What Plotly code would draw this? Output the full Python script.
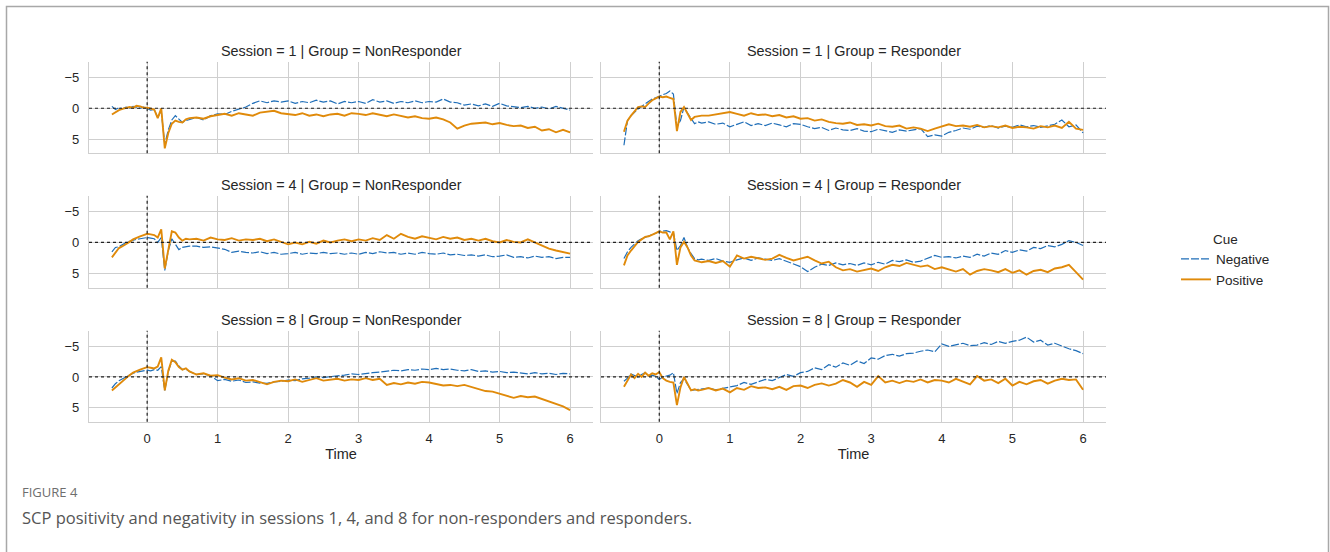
import plotly.graph_objects as go

# ---------------- data ----------------
TIME = [-0.5, -0.45, -0.4, -0.35, -0.3, -0.25, -0.2, -0.15, -0.1, -0.05,
        0.0, 0.05, 0.1, 0.15, 0.2, 0.25, 0.3, 0.35, 0.4, 0.45,
        0.5, 0.55, 0.6,
        0.7, 0.8, 0.9, 1.0, 1.1, 1.2, 1.3, 1.4, 1.5, 1.6,
        1.7, 1.8, 1.9, 2.0, 2.1, 2.2, 2.3, 2.4, 2.5, 2.6,
        2.7, 2.8, 2.9, 3.0, 3.1, 3.2, 3.3, 3.4, 3.5, 3.6,
        3.7, 3.8, 3.9, 4.0, 4.1, 4.2, 4.3, 4.4, 4.5, 4.6,
        4.7, 4.8, 4.9, 5.0, 5.1, 5.2, 5.3, 5.4, 5.5, 5.6,
        5.7, 5.8, 5.9, 6.0]

SESSIONS = [1, 4, 8]
GROUPS = ["NonResponder", "Responder"]
CUES = ["Negative", "Positive"]
X_TICKS = [0, 1, 2, 3, 4, 5, 6]
Y_TICKS = [-5, 0, 5]

S1_NR_NEG = [-0.3, 0.2, -0.1, 0.1, -0.2, 0.0, -0.3, -0.1, 0.0, -0.2,
             0.1, 0.3, 0.2, 1.5, 0.5, 5.8, 3.5, 1.9, 1.2, 1.7,
             2.3, 2.0, 1.8,
             1.5, 1.9, 1.2, 0.9, 1.0, 0.5, 0.1, -0.2, -0.8, -1.2,
             -0.9, -1.2, -1.0, -1.2, -0.8, -1.1, -0.9, -1.3, -1.0, -1.2,
             -0.7, -1.1, -0.9, -1.1, -0.8, -1.4, -1.0, -1.2, -0.8, -1.1,
             -0.9, -1.2, -0.9, -1.1, -1.0, -1.5, -1.0, -0.9, -0.5, -0.7,
             -0.4, -0.7, -0.3, -0.8, -0.4, -0.2, -0.1, -0.3, 0.0, -0.2,
             0.1, -0.3, 0.0, 0.3]
S1_NR_POS = [1.0, 0.6, 0.3, 0.1, 0.0, -0.2, -0.1, -0.4, -0.3, -0.1,
             -0.1, 0.1, 0.2, 1.6, 0.0, 6.5, 4.0, 2.5, 2.0, 2.2,
             2.3, 1.8, 1.6,
             1.5, 1.7, 1.3, 1.1, 0.9, 1.2, 0.8, 1.0, 1.2, 0.7,
             0.6, 0.4, 0.8, 0.9, 1.1, 0.8, 1.2, 1.0, 1.3, 1.0,
             0.9, 1.2, 0.8, 0.9, 1.1, 0.8, 1.0, 1.3, 1.0, 1.2,
             1.5, 1.3, 1.6, 1.7, 1.5, 1.8, 2.3, 3.3, 2.8, 2.5,
             2.4, 2.3, 2.6, 2.4, 2.7, 2.9, 2.8, 3.2, 3.0, 3.6,
             3.4, 3.9, 3.5, 3.9]
S1_R_NEG = [6.0, 2.0, 1.2, 0.6, 0.1, -0.3, -0.7, -1.1, -1.5, -1.7,
            -2.0, -2.2, -2.4, -2.8, -2.3, 3.0, 2.0, -0.2, 0.8, 1.7,
            2.5, 2.2, 2.4,
            2.2, 2.6, 2.4, 3.0, 2.6, 2.2, 2.8, 2.5, 2.8, 2.4,
            2.7, 3.0, 2.5, 2.6, 3.0, 3.3, 3.1, 3.6, 3.2, 3.5,
            3.6, 3.3, 3.7, 3.8, 3.4, 3.6, 3.9, 3.5, 3.7, 3.5,
            3.3, 4.6, 4.3, 4.5, 3.9, 3.6, 3.2, 3.4, 2.9, 3.1,
            2.8, 3.2, 2.9, 3.1, 2.7, 3.0, 2.8, 3.1, 2.8, 2.6,
            1.9, 3.0, 2.7, 4.0]
S1_R_POS = [3.8, 2.0, 1.2, 0.5, -0.2, -0.3, -0.2, -0.8, -1.3, -1.6,
            -1.9, -1.8, -1.9, -1.7, -1.5, 3.7, 0.6, -0.2, 0.8, 1.9,
            1.4, 1.3, 1.2,
            1.2, 1.0, 0.8, 0.6, 0.9, 1.2, 0.8, 1.1, 1.0, 1.3,
            1.1, 1.5, 1.3, 1.7, 1.6, 2.0, 1.8, 2.2, 2.4, 2.5,
            2.3, 2.7, 2.6, 2.8, 2.5, 2.9, 3.0, 2.8, 3.3, 3.1,
            3.3, 3.7, 3.3, 3.0, 2.6, 2.9, 2.8, 3.0, 2.7, 3.1,
            2.9, 3.1, 2.8, 3.2, 3.0, 3.1, 3.3, 2.9, 3.1, 2.8,
            3.2, 2.2, 3.3, 3.5]
S4_NR_NEG = [1.5, 0.8, 0.7, 0.3, 0.0, -0.2, -0.4, -0.5, -0.6, -0.7,
             -0.8, -0.7, -0.6, 0.0, -0.8, 4.5, 1.3, -0.6, 0.3, 1.15,
             0.8, 0.7, 0.6,
             0.6, 0.8, 0.7, 0.9, 1.1, 1.6, 1.4, 1.6, 1.7, 1.5,
             1.8, 1.6, 1.9, 1.8, 1.6, 1.9, 1.7, 1.8, 1.6, 1.8,
             1.7, 1.9, 1.7, 1.9, 1.6, 1.8, 1.5, 1.7, 1.6, 1.9,
             1.7, 1.9, 1.6, 1.8, 1.9, 1.7, 2.0, 1.9, 2.1, 2.0,
             2.2, 2.0, 2.3, 2.2, 2.0, 2.4, 2.3, 2.5, 2.2, 2.4,
             2.3, 2.6, 2.4, 2.4]
S4_NR_POS = [2.4, 1.6, 0.9, 0.6, 0.3, -0.1, -0.5, -0.8, -1.0, -1.2,
             -1.4, -1.3, -1.2, -0.8, -2.1, 4.2, 1.0, -1.8, -1.6, -0.8,
             -0.3, -0.6, -0.5,
             -0.6, -0.3, -0.8, -0.5, -0.4, -0.7, -0.3, -0.5, -0.4, -0.6,
             -0.2, -0.5, -0.1, 0.3, 0.0, 0.3, -0.1, 0.2, -0.3, 0.0,
             -0.3, -0.5, -0.2, -0.5, -0.3, -0.7, -0.4, -1.2, -0.6, -1.4,
             -0.9, -0.6, -1.0, -0.8, -0.5, -0.9, -0.6, -0.8, -0.4, -0.6,
             -0.3, -0.6, -0.2, 0.0, -0.4, -0.1, 0.0, -0.5, 0.0, 0.6,
             1.0, 1.3, 1.5, 1.8]
S4_R_NEG = [2.6, 1.5, 0.8, 0.2, -0.3, -0.6, -0.8, -1.0, -1.2, -1.5,
            -1.8, -1.9, -1.9, -1.7, -1.6, 1.3, 0.5, -0.8, 0.8, 1.8,
            2.6, 2.8, 2.7,
            2.9, 2.6, 3.0, 3.2, 2.8, 2.5, 2.9, 2.5, 2.7, 2.9,
            2.6, 3.0, 3.4, 3.9, 4.7, 4.0, 3.5, 3.7, 3.3, 3.6,
            3.4, 3.7, 3.3, 3.6, 3.2, 3.5, 2.9, 3.1, 2.8, 3.2,
            3.0, 2.6, 2.1, 2.4, 2.3, 2.5, 2.2, 2.4, 1.9, 2.2,
            1.7, 1.9, 1.3, 1.6, 1.2, 1.4, 0.8, 1.0, 0.5, 0.7,
            0.3, -0.3, 0.0, 0.5]
S4_R_POS = [3.7, 2.1, 1.3, 0.6, -0.1, -0.5, -0.9, -1.0, -1.2, -1.5,
            -1.8, -1.6, -1.6, -0.5, -1.8, 3.6, 0.8, -0.1, 0.8, 2.1,
            2.9, 3.0, 3.2,
            3.0, 3.3, 3.0, 3.9, 2.1, 2.6, 2.3, 2.5, 2.8, 2.6,
            2.0, 2.5, 2.9, 2.6, 2.3, 2.9, 3.4, 3.1, 4.0, 4.5,
            4.3, 4.7, 4.4, 4.2, 4.6, 4.0, 3.6, 3.8, 3.3, 3.6,
            3.9, 3.7, 4.3, 4.0, 4.3, 4.7, 4.3, 5.2, 4.6, 4.3,
            4.5, 4.8, 4.3, 4.9, 4.5, 5.2, 4.6, 4.4, 4.8, 4.2,
            4.0, 3.6, 4.8, 6.0]
S8_NR_NEG = [1.8, 1.1, 0.6, 0.3, -0.1, -0.4, -0.6, -0.8, -0.9, -1.0,
             -1.1, -1.0, -1.2, -1.1, -1.7, 2.2, -0.9, -2.6, -2.6, -1.8,
             -1.2, -1.3, -0.9,
             -0.4, -0.5, -0.2, 0.6, 0.4, 0.7, 0.5, 0.9, 0.8, 1.0,
             1.05, 0.8, 0.7, 0.5, 0.6, 0.3, 0.2, 0.0, 0.1, -0.1,
             -0.2, -0.3, -0.5, -0.4, -0.6, -0.7, -0.8, -0.9, -1.1, -1.0,
             -1.2, -1.1, -1.3, -1.2, -1.4, -1.2, -1.3, -1.1, -1.0, -1.2,
             -0.9, -1.0, -0.8, -0.9, -0.7, -0.8, -0.6, -0.5, -0.7, -0.5,
             -0.6, -0.4, -0.6, -0.5]
S8_NR_POS = [2.2, 1.7, 1.2, 0.6, 0.1, -0.3, -0.7, -1.0, -1.2, -1.4,
             -1.6, -1.5, -1.4, -1.7, -3.2, 2.2, -1.0, -2.8, -2.4, -1.6,
             -1.2, -1.4, -0.9,
             -0.4, -0.6, -0.2, -0.3, 0.1, 0.4, 0.2, 0.6, 0.5, 0.8,
             1.2, 0.8, 0.6, 0.7, 0.4, 0.8, 0.5, 0.2, 0.6, 0.4,
             0.3, 0.6, 0.4, 0.5, 0.2, 0.5, 0.3, 1.3, 1.0, 1.2,
             0.9, 1.1, 0.8, 0.9, 1.2, 1.4, 1.3, 1.5, 1.3, 1.6,
             1.9, 2.3, 2.4, 2.7, 3.0, 3.4, 3.1, 3.3, 3.2, 3.6,
             4.1, 4.4, 4.8, 5.4]
S8_R_NEG = [0.7, 0.2, -0.5, -0.3, 0.0, -0.4, -0.7, -0.2, -0.3, -0.1,
            0.4, 0.0, -0.2, -0.3, -0.7, 2.7, 0.9, 0.3, 1.2, 2.2,
            2.1, 2.0, 2.0,
            1.8, 2.1, 1.9, 1.7, 1.4, 0.9, 1.2, 0.8, 0.4, 0.6,
            0.1, -0.4, -0.1, -0.7, -0.9, -1.5, -1.2, -2.0, -1.6, -2.3,
            -1.9, -2.6, -2.2, -3.1, -2.9, -3.5, -3.7, -3.4, -3.8, -3.9,
            -4.2, -4.4, -4.1, -5.4, -5.0, -5.3, -5.5, -5.1, -5.2, -5.6,
            -5.3, -5.8, -5.5, -5.8, -6.0, -6.5, -5.7, -6.0, -5.2, -5.5,
            -5.0, -4.6, -4.3, -3.8]
S8_R_POS = [1.6, 0.5, -0.4, 0.2, -0.5, 0.0, -0.7, -0.2, -0.6, -0.4,
            -0.8, 0.2, 0.6, 0.8, 0.9, 4.6, 1.7, 0.0, 1.2, 2.2,
            2.0, 2.2, 2.1,
            1.8, 2.2, 1.9, 2.5, 1.8, 2.1, 1.5, 1.8, 1.7, 2.0,
            1.6, 2.1, 1.5, 1.4, 1.8, 1.3, 1.05, 1.4, 1.1, 0.5,
            0.9, 1.6, 0.8, 1.3, -0.15, 0.9, 0.6, 1.0, 0.6, 0.8,
            0.4, 0.9, 0.5, 0.6, 0.9, 0.3, 0.8, 1.2, -0.15, 0.6,
            0.4, 1.0, 0.3, 1.4, 0.8, 1.2, 0.7, 0.5, 1.1, 0.6,
            0.3, 0.5, 0.4, 2.1]

PANEL_DATA = {
    (1, "NonResponder"): (S1_NR_NEG, S1_NR_POS),
    (1, "Responder"): (S1_R_NEG, S1_R_POS),
    (4, "NonResponder"): (S4_NR_NEG, S4_NR_POS),
    (4, "Responder"): (S4_R_NEG, S4_R_POS),
    (8, "NonResponder"): (S8_NR_NEG, S8_NR_POS),
    (8, "Responder"): (S8_R_NEG, S8_R_POS),
}

# ---------------- styling / layout ----------------
W, H = 1330, 552
FONT = "Liberation Sans, Arial, sans-serif"
TXT = "#262626"
GRID = "#cfcfcf"
COLORS = {"Negative": "#1f6eb8", "Positive": "#e08a0a"}

COL_PX = [(89, 593), (601, 1106)]
ROW_PX = [(61.7, 153.3), (195.7, 287.7), (330.7, 421.7)]

fig = go.Figure()

for r, sess in enumerate(SESSIONS):
    for c, grp in enumerate(GROUPS):
        i = r * 2 + c + 1
        xa = "x" if i == 1 else f"x{i}"
        ya = "y" if i == 1 else f"y{i}"
        neg, pos = PANEL_DATA[(sess, grp)]
        for cue, vals in zip(CUES, (neg, pos)):
            fig.add_trace(go.Scatter(
                x=TIME, y=vals, mode="lines", name=cue,
                legendgroup=cue, showlegend=(i == 1),
                xaxis=xa, yaxis=ya,
                line=dict(color=COLORS[cue],
                          width=1.2 if cue == "Negative" else 1.9,
                          dash="8px,2px" if cue == "Negative" else "solid"),
            ))
        x0, x1 = COL_PX[c]
        y0, y1 = ROW_PX[r]
        xkey = "xaxis" if i == 1 else f"xaxis{i}"
        ykey = "yaxis" if i == 1 else f"yaxis{i}"
        xaxis = dict(
            domain=[x0 / W, x1 / W], anchor=ya, range=[-0.825, 6.325],
            tickvals=X_TICKS, showgrid=True, gridcolor=GRID, gridwidth=1,
            showline=True, linecolor=GRID, linewidth=1.3, zeroline=False,
            ticks="outside", ticklen=5, tickcolor="rgba(0,0,0,0)",
            showticklabels=(r == 2),
            tickfont=dict(family=FONT, size=13, color=TXT),
        )
        if r == 2:
            xaxis["title"] = dict(text="Time", font=dict(family=FONT, size=14.5, color=TXT), standoff=1)
        yaxis = dict(
            domain=[1 - y1 / H, 1 - y0 / H], anchor=xa, range=[7.3, -7.55],
            tickvals=Y_TICKS, showgrid=True, gridcolor=GRID, gridwidth=1,
            showline=True, linecolor=GRID, linewidth=1.3, zeroline=False,
            ticks="outside", ticklen=6, tickcolor="rgba(0,0,0,0)",
            showticklabels=(c == 0),
            tickfont=dict(family=FONT, size=13, color=TXT),
        )
        fig.update_layout(**{xkey: xaxis, ykey: yaxis})
        # dotted reference lines
        fig.add_shape(type="line", xref=xa, yref=f"{ya} domain", x0=0, x1=0, y0=0, y1=1,
                      line=dict(color="#222222", width=1.2, dash="dot"), layer="above")
        fig.add_shape(type="line", xref=f"{xa} domain", yref=ya, x0=0, x1=1, y0=0, y1=0,
                      line=dict(color="#222222", width=1.2, dash="dot"), layer="above")
        # panel title
        fig.add_annotation(text=f"Session = {sess} | Group = {grp}",
                           xref="paper", yref="paper",
                           x=(x0 + x1) / 2 / W, y=1 - (y0 - 10.5) / H,
                           xanchor="center", yanchor="middle", showarrow=False,
                           font=dict(family=FONT, size=14.4, color=TXT))

# figure frame
fig.add_shape(type="rect", xref="paper", yref="paper",
              x0=6.5 / W, x1=1328.5 / W, y0=-0.1, y1=1 - 6.5 / H,
              line=dict(color="#a8a8a8", width=1.5), fillcolor="rgba(0,0,0,0)")

# caption
fig.add_annotation(text="FIGURE 4", xref="paper", yref="paper",
                   x=20 / W, y=1 - 492 / H, xanchor="left", yanchor="middle",
                   showarrow=False, font=dict(family="Open Sans, sans-serif", size=13, color="#6e6e6e"))
fig.add_annotation(text="SCP positivity and negativity in sessions 1, 4, and 8 for non-responders and responders.",
                   xref="paper", yref="paper",
                   x=20 / W, y=1 - 517 / H, xanchor="left", yanchor="middle",
                   showarrow=False, font=dict(family="Open Sans, sans-serif", size=16.5, color="#555555"))

fig.update_layout(
    width=W, height=H, autosize=False,
    margin=dict(l=0, r=0, t=0, b=0),
    paper_bgcolor="white", plot_bgcolor="white",
    font=dict(family=FONT, color=TXT),
    legend=dict(
        x=1176 / W, y=1 - 226 / H, xanchor="left", yanchor="top",
        title=dict(text="Cue", side="top center", font=dict(family=FONT, size=13.5, color=TXT)),
        font=dict(family=FONT, size=13.5, color=TXT),
        itemwidth=30, tracegroupgap=0, bgcolor="rgba(0,0,0,0)",
    ),
)

fig.write_html("out.html", config={"displayModeBar": False},
               post_script="document.body.style.margin='0px';")
